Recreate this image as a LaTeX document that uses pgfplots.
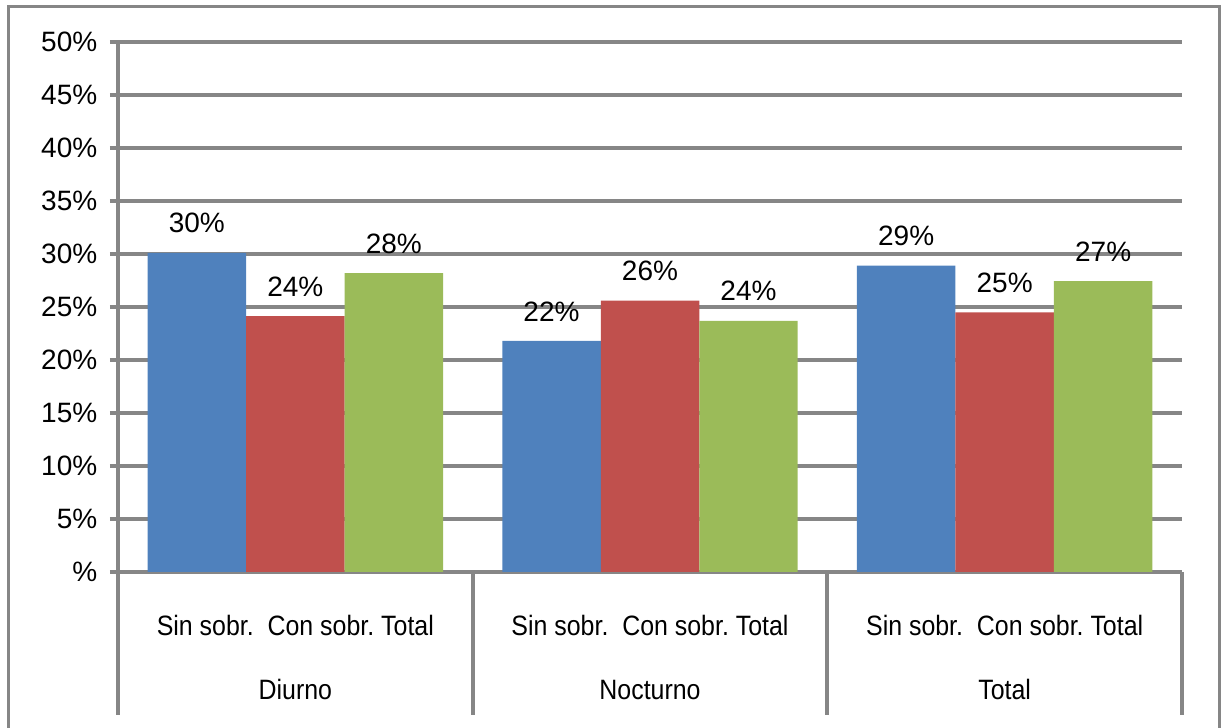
\documentclass[border=0pt]{standalone}
\usepackage{pgfplots}
\pgfplotsset{compat=1.18}
\usepackage{fontspec}
\setmainfont{Liberation Sans}
\newfontfamily\condfont[FakeStretch=0.89]{Liberation Sans}
\definecolor{gridgray}{HTML}{868686}
\definecolor{cblue}{HTML}{4F81BD}
\definecolor{cred}{HTML}{C0504D}
\definecolor{cgreen}{HTML}{9BBB59}
\begin{document}
\fontsize{14}{16}\selectfont
\begin{tikzpicture}
\useasboundingbox (0,0) rectangle (610.5pt,364pt);
\draw[gridgray, line width=1.5pt] (4pt,-3pt) -- (4pt,360.5pt) -- (609.5pt,360.5pt) -- (609.5pt,-3pt);
\begin{axis}[
  at={(59pt,78pt)}, anchor=south west,
  scale only axis, width=532pt, height=265pt,
  xmin=0, xmax=3, ymin=0, ymax=50,
  axis x line*=bottom, axis y line*=left,
  axis line style={gridgray, line width=2pt},
  ytick={0,5,...,50},
  yticklabels={\%,5\%,10\%,15\%,20\%,25\%,30\%,35\%,40\%,45\%,50\%},
  ymajorgrids,
  major grid style={gridgray, line width=2pt},
  tick align=outside,
  major tick length=4pt,
  ytick style={gridgray, line width=2pt},
  xtick={0.5,1.5,2.5},
  xticklabels={Sin sobr.\ \ Con sobr.\ Total,Sin sobr.\ \ Con sobr.\ Total,Sin sobr.\ \ Con sobr.\ Total},
  xtick style={draw=none},
  xticklabel style={font=\condfont\fontsize{14}{16}\selectfont, anchor=base, yshift=-28pt},
  yticklabel style={font=\fontsize{14}{16}\selectfont, xshift=-1.5pt},
  clip=false,
]
\addplot[ybar, bar width=0.2777, bar shift=0pt, fill=cblue, draw=none,
  point meta=explicit symbolic, nodes near coords,
  nodes near coords style={anchor=south, yshift=5pt, text=black, font=\fontsize{14}{16}\selectfont}]
  coordinates {(0.2223,30.1) [30\%] (1.2223,21.8) [22\%] (2.2223,28.9) [29\%]};
\addplot[ybar, bar width=0.2777, bar shift=0pt, fill=cred, draw=none,
  point meta=explicit symbolic, nodes near coords,
  nodes near coords style={anchor=south, yshift=5pt, text=black, font=\fontsize{14}{16}\selectfont}]
  coordinates {(0.5,24.15) [24\%] (1.5,25.6) [26\%] (2.5,24.5) [25\%]};
\addplot[ybar, bar width=0.2777, bar shift=0pt, fill=cgreen, draw=none,
  point meta=explicit symbolic, nodes near coords,
  nodes near coords style={anchor=south, yshift=5pt, text=black, font=\fontsize{14}{16}\selectfont}]
  coordinates {(0.7777,28.2) [28\%] (1.7777,23.7) [24\%] (2.7777,27.45) [27\%]};
\draw[gridgray, line width=2pt] (axis cs:0,0) -- ++(0,-71.5pt);
\draw[gridgray, line width=2pt] (axis cs:1,0) -- ++(0,-71.5pt);
\draw[gridgray, line width=2pt] (axis cs:2,0) -- ++(0,-71.5pt);
\draw[gridgray, line width=2pt] (axis cs:3,0) -- ++(0,-71.5pt);
\node[anchor=base, yshift=-63.5pt, font=\condfont\fontsize{14}{16}\selectfont] at (axis cs:0.5,0) {Diurno};
\node[anchor=base, yshift=-63.5pt, font=\condfont\fontsize{14}{16}\selectfont] at (axis cs:1.5,0) {Nocturno};
\node[anchor=base, yshift=-63.5pt, font=\condfont\fontsize{14}{16}\selectfont] at (axis cs:2.5,0) {Total};
\end{axis}
\end{tikzpicture}
\end{document}
